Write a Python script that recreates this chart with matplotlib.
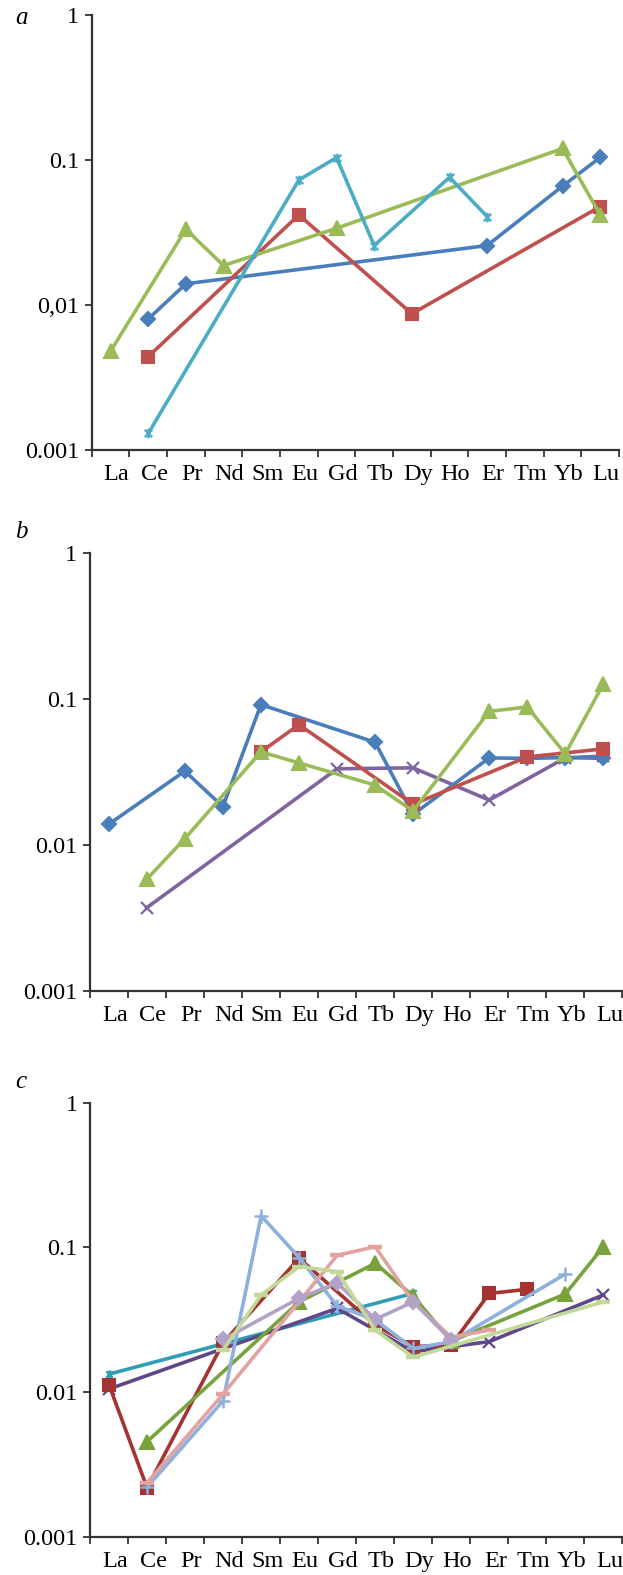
import numpy as np
import matplotlib
matplotlib.use("Agg")
import matplotlib.pyplot as plt
from matplotlib.path import Path
from matplotlib.transforms import ScaledTranslation

plt.rcParams['font.family'] = ['Liberation Serif', 'DejaVu Serif']

elements = ["La", "Ce", "Pr", "Nd", "Sm", "Eu", "Gd", "Tb", "Dy", "Ho", "Er", "Tm", "Yb", "Lu"]
N = None

# Panel a
a_blue  = [N, 0.0080, 0.0140, N, N, N, N, N, N, N, 0.0257, N, 0.066, 0.104]
a_red   = [N, 0.0044, N, N, N, 0.0418, N, N, 0.0087, N, N, N, N, 0.0477]
a_green = [0.0048, N, 0.0333, 0.0187, N, N, 0.0338, N, N, N, N, N, 0.120, 0.0418]
a_cyan  = [N, 0.0013, N, N, N, 0.0728, 0.1038, 0.0257, N, 0.0759, 0.0407, N, N, N]

# Panel b
b_blue   = [0.0138, N, 0.0319, 0.0182, 0.091, N, N, 0.0503, 0.0161, N, 0.0393, 0.0390, 0.0395, 0.0390]
b_red    = [N, N, N, N, 0.0432, 0.0664, N, N, 0.0189, N, N, 0.0399, N, 0.0453]
b_green  = [N, 0.0058, 0.0110, N, 0.0432, 0.0363, N, 0.0256, 0.0170, N, 0.0819, 0.0877, 0.0419, 0.126]
b_purple = [N, 0.0037, N, N, N, N, 0.0331, N, 0.0336, N, 0.0202, N, 0.0393, 0.0404]

# Panel c
c_teal   = [0.0133, N, N, N, N, N, N, N, 0.0481, N, N, N, N, N]
c_purple = [0.0105, N, N, N, N, N, 0.0379, N, 0.0190, N, 0.0223, N, N, 0.0469]
c_red    = [0.0112, 0.00218, N, 0.0219, N, 0.084, N, 0.029, 0.0206, 0.0211, 0.048, 0.0513, N, N]
c_green  = [N, 0.00454, N, N, N, 0.042, N, 0.0776, 0.046, 0.0225, N, N, 0.0476, 0.101]
c_lblue  = [N, 0.0022, N, 0.0087, 0.165, 0.085, 0.0393, 0.0315, 0.0200, 0.0223, N, N, 0.0654, N]
c_pink   = [N, 0.00236, N, 0.0097, N, N, 0.088, 0.101, 0.042, 0.0239, 0.0268, N, N, N]
c_lav    = [N, N, N, 0.0231, N, 0.0445, 0.0567, 0.0318, 0.042, 0.0229, N, N, N, N]
c_lgreen = [N, N, N, 0.0195, 0.0469, 0.0736, 0.068, 0.0268, 0.0174, N, N, N, N, 0.042]

a_ticklabels = ["0.001", "0,01", "0.1", "1"]
bc_ticklabels = ["0.001", "0.01", "0.1", "1"]
tick_values = [0.001, 0.01, 0.1, 1]

star = Path([(-1, -1), (1, 1), (-1, 1), (1, -1), (0, -1.3), (0, 1.3)],
            [Path.MOVETO, Path.LINETO, Path.MOVETO, Path.LINETO, Path.MOVETO, Path.LINETO])

fig = plt.figure(figsize=(6.23, 15.75), dpi=100)

def make_ax(rect, letter, yticklabels, letter_y):
    ax = fig.add_axes(rect)
    ax.set_yscale('log')
    ax.set_ylim(0.001, 1)
    ax.set_xlim(-0.5, 13.5)
    ax.set_yticks(tick_values)
    ax.set_yticklabels(yticklabels)
    ax.yaxis.set_minor_locator(matplotlib.ticker.NullLocator())
    ax.set_xticks(np.arange(-0.5, 14.0, 1.0))
    ax.set_xticklabels([])
    ax.set_xticks(np.arange(14), minor=True)
    ax.set_xticklabels(elements, minor=True)
    ax.tick_params(axis='x', which='major', direction='out', length=5, width=1.3, color='#333333')
    ax.tick_params(axis='x', which='minor', length=0, pad=10, labelsize=17.5)
    ax.tick_params(axis='y', which='major', direction='out', length=5, width=1.3, color='#333333',
                   pad=4, labelsize=17.5)
    shift = ScaledTranslation(6 / 100, 0, fig.dpi_scale_trans)
    for lab in ax.xaxis.get_minorticklabels():
        lab.set_transform(lab.get_transform() + shift)
    for s in ['top', 'right']:
        ax.spines[s].set_visible(False)
    for s in ['left', 'bottom']:
        ax.spines[s].set_linewidth(1.6)
        ax.spines[s].set_color('#333333')
    fig.text(0.024, letter_y, letter, style='italic', fontsize=18, ha='left', va='center')
    return ax

def series(ax, vals, color, marker, ms, mew=1.5, lw=2.6, z=2):
    x = [i for i, v in enumerate(vals) if v is not None]
    y = [v for v in vals if v is not None]
    ax.plot(x, y, color=color, lw=lw, marker=marker, ms=ms, mec=color, mfc=color,
            mew=mew, zorder=z, solid_joinstyle='miter')

# panel a
ax_a = make_ax([0.1472, 0.7143, 0.9936 - 0.1472, 0.9905 - 0.7143], 'a', a_ticklabels, 1 - 18 / 1575)
series(ax_a, a_blue, '#4A7EBB', 'D', 7)
series(ax_a, a_red, '#C0504D', 's', 9)
series(ax_a, a_green, '#9BBB59', '^', 10)
series(ax_a, a_cyan, '#4BACC6', star, 7, mew=1.7)

# panel b
ax_b = make_ax([0.1440, 0.3710, 0.999 - 0.1440, 0.6491 - 0.3710], 'b', bc_ticklabels, 1 - 532 / 1575)
series(ax_b, b_purple, '#8064A2', 'x', 9, mew=1.6)
series(ax_b, b_blue, '#4A7EBB', 'D', 7)
series(ax_b, b_red, '#C0504D', 's', 9)
series(ax_b, b_green, '#9BBB59', '^', 10)

# panel c
ax_c = make_ax([0.1445, 0.0243, 0.999 - 0.1445, 0.2999 - 0.0243], 'c', bc_ticklabels, 1 - 1082 / 1575)
series(ax_c, c_teal, '#2E9EB5', star, 6, mew=1.6)
series(ax_c, c_purple, '#5F4888', 'x', 8, mew=1.6)
series(ax_c, c_red, '#A33432', 's', 9)
series(ax_c, c_green, '#78A33C', '^', 10)
series(ax_c, c_lblue, '#8DB0DC', '+', 10, mew=1.8)
series(ax_c, c_pink, '#E0A3A0', '_', 10, mew=3.2)
series(ax_c, c_lav, '#B3A2C7', 'D', 7)
series(ax_c, c_lgreen, '#C2D99A', '_', 10, mew=3.2)

fig.savefig('out.png', dpi=100)
